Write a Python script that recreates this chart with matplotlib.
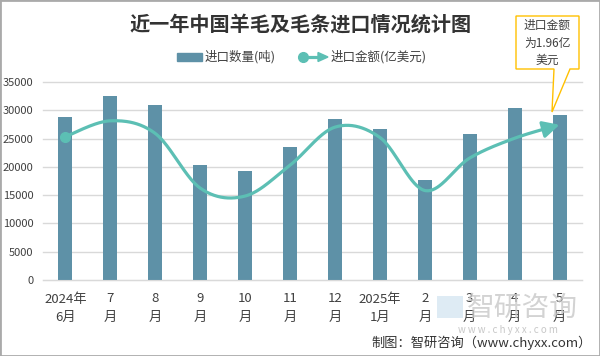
import numpy as np
import matplotlib
matplotlib.use('Agg')
import matplotlib.pyplot as plt
from matplotlib.patches import Rectangle, Polygon
from matplotlib.lines import Line2D

plt.rcParams['font.family'] = ['Noto Sans CJK SC', 'DejaVu Sans']

# ---- data ----
months_top = ['2024年', '7', '8', '9', '10', '11', '12', '2025年', '2', '3', '4', '5']
months_bot = ['6月', '月', '月', '月', '月', '月', '月', '1月', '月', '月', '月', '月']
volume = [28900, 32600, 31000, 20400, 19300, 23500, 28500, 26700, 17700, 25850, 30450, 29200]
amount = [1.81, 2.01, 1.85, 1.16, 1.06, 1.45, 1.93, 1.80, 1.13, 1.54, 1.79, 1.96]
yticks = [0, 5000, 10000, 15000, 20000, 25000, 30000, 35000]

title = '近一年中国羊毛及毛条进口情况统计图'
legend_bar = '进口数量(吨)'
legend_line = '进口金额(亿美元)'
callout = '进口金额\n为1.96亿\n美元'
source = '制图：智研咨询（www.chyxx.com）'

BAR = '#5E91A7'
LINE = '#5CBFB4'
TXT = '#404040'
GRID = '#D9D9D9'

W, H = 600, 356
fig = plt.figure(figsize=(W / 100, H / 100), dpi=100)
fig.patch.set_facecolor('white')


def fx(x):
    return x / W


def fy(y):
    return 1 - y / H


ax = fig.add_axes([fx(43), fy(280), (582 - 43) / W, (280 - 82) / H])
x = np.arange(len(volume))
ax.bar(x, volume, width=0.31, color=BAR, zorder=2)
ax.set_xlim(-0.5, len(volume) - 0.5)
ax.set_ylim(0, 35000)
ax.set_yticks(yticks)
ax.set_yticklabels([str(v) for v in yticks], fontsize=8, color=TXT)
ax.yaxis.grid(True, color=GRID, lw=1, zorder=0, clip_on=False)
ax.set_axisbelow(True)
for s in ['top', 'right', 'left']:
    ax.spines[s].set_visible(False)
ax.spines['bottom'].set_color(GRID)
ax.tick_params(axis='y', length=0, pad=7)
ax.tick_params(axis='x', length=0, pad=9)
ax.set_xticks(x)
ax.set_xticklabels([a + '\n' + b for a, b in zip(months_top, months_bot)],
                   fontsize=9.5, color=TXT)
for lbl in ax.get_xticklabels():
    lbl.set_linespacing(1.55)

# ---- smooth line on hidden secondary axis ----
ax2 = ax.twinx()
ax2.set_ylim(0, 2.5)
ax2.axis('off')
P = np.column_stack([x, amount]).astype(float)
n = len(P)
pts = []
for i in range(n - 1):
    p0 = P[max(i - 1, 0)]
    p1 = P[i]
    p2 = P[i + 1]
    p3 = P[min(i + 2, n - 1)]
    c1 = p1 + (p2 - p0) / 6
    c2 = p2 - (p3 - p1) / 6
    t = np.linspace(0, 1, 40)[:, None]
    seg = ((1 - t) ** 3) * p1 + 3 * ((1 - t) ** 2) * t * c1 + 3 * (1 - t) * t ** 2 * c2 + t ** 3 * p2
    if i > 0:
        seg = seg[1:]
    pts.append(seg)
curve = np.vstack(pts)
cut = len(curve) - 8
ax2.plot(curve[:cut + 1, 0], curve[:cut + 1, 1], color=LINE, lw=2.3, solid_capstyle='round', zorder=3)
ax2.plot([P[0, 0]], [P[0, 1]], 'o', color=LINE, ms=7, zorder=4)
ax2.annotate('', xy=(P[-1, 0], P[-1, 1]), xytext=(curve[cut, 0], curve[cut, 1]),
             arrowprops=dict(arrowstyle='-|>,head_length=0.55,head_width=0.28', color=LINE,
                             lw=2.3, shrinkA=0, shrinkB=0, mutation_scale=18), zorder=4)

# ---- title ----
fig.text(fx(301), fy(24), title, ha='center', va='center', fontsize=14.5,
         fontweight='bold', color='#333333')

# ---- legend ----
fig.add_artist(Rectangle((fx(177), fy(61)), (202 - 177) / W, 8 / H, color=BAR,
                         transform=fig.transFigure))
fig.text(fx(205), fy(57), legend_bar, ha='left', va='center', fontsize=9, color=TXT)
fig.add_artist(Line2D([fx(303), fx(320)], [fy(57), fy(57)], color=LINE, lw=2.3,
                      transform=fig.transFigure))
fig.add_artist(Line2D([fx(303)], [fy(57)], marker='o', ms=7, color=LINE,
                      transform=fig.transFigure))
fig.add_artist(Polygon([(fx(318), fy(52.5)), (fx(328), fy(57)), (fx(318), fy(61.5))],
                       closed=True, color=LINE, transform=fig.transFigure))
fig.text(fx(331), fy(57), legend_line, ha='left', va='center', fontsize=9, color=TXT)

# ---- callout ----
box = [(516, 16), (579, 16), (579, 69), (570, 69), (552, 112), (554, 69), (516, 69)]
fig.add_artist(Polygon([(fx(a), fy(b)) for a, b in box], closed=True, facecolor='white',
                       edgecolor='#FFC000', lw=1, transform=fig.transFigure, zorder=5))
fig.text(fx(547.5), fy(43), callout, ha='center', va='center', fontsize=8.5,
         color=TXT, linespacing=1.45, zorder=6)

# ---- watermark ----
fig.text(fx(467), fy(308), '智研咨询', ha='left', va='center', fontsize=20,
         color='#C8C8C8', alpha=0.8, zorder=1)
fig.add_artist(Rectangle((fx(437), fy(318)), 26 / W, 22 / H, facecolor='#D6E6F2',
                         edgecolor='none', alpha=0.8, transform=fig.transFigure, zorder=1))
fig.text(fx(508), fy(330), 'w w w . c h y x x . c o m', ha='center', va='center',
         fontsize=7, color='#C8C8C8', zorder=1)

# ---- source ----
fig.text(fx(592), fy(343), source, ha='right', va='center', fontsize=9.5, color='#333333')

# ---- border ----
fig.add_artist(Rectangle((0, 0), 1, 1, fill=False, edgecolor='#AAAAAA', lw=2,
                         transform=fig.transFigure))

fig.savefig('out.png', dpi=100)
